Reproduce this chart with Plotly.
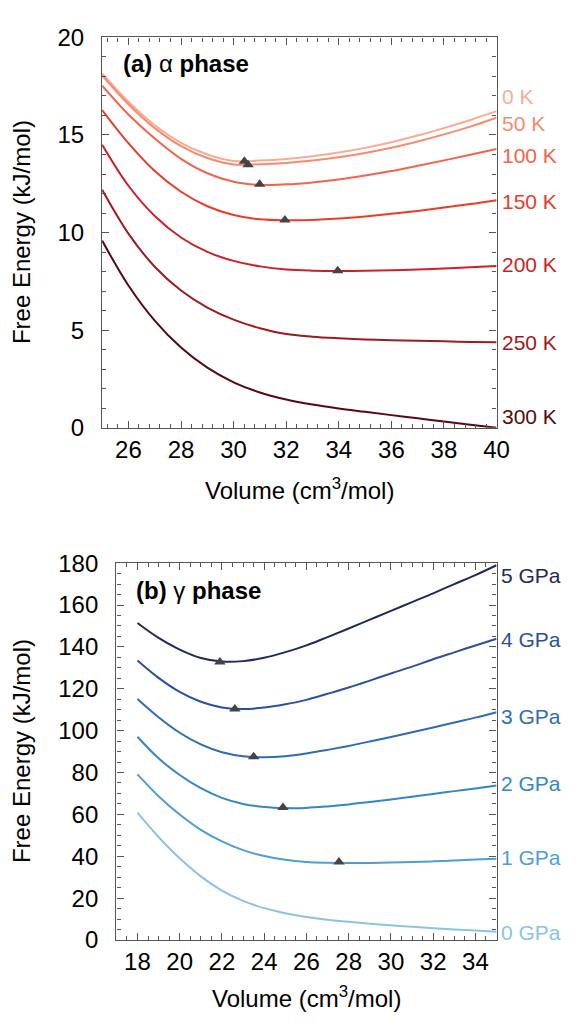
import plotly.graph_objects as go

# ---- (a) alpha phase : free energy vs volume at several temperatures ----
vol_alpha = [25, 26, 27, 28, 29, 30, 31, 32, 33, 34, 35, 36, 37, 38, 39, 40]
f_0K = [18.15, 16.70, 15.50, 14.60, 14.00, 13.67, 13.69, 13.77, 13.91, 14.10, 14.34, 14.63, 14.97, 15.35, 15.77, 16.22]
f_50K = [18.05, 16.57, 15.35, 14.43, 13.82, 13.49, 13.50, 13.57, 13.69, 13.86, 14.08, 14.35, 14.67, 15.03, 15.43, 15.88]
f_100K = [17.53, 16.05, 14.82, 13.78, 13.04, 12.60, 12.44, 12.47, 12.57, 12.72, 12.92, 13.15, 13.42, 13.70, 13.99, 14.28]
f_150K = [16.28, 14.58, 13.15, 12.09, 11.35, 10.90, 10.68, 10.63, 10.65, 10.72, 10.83, 10.96, 11.11, 11.28, 11.46, 11.66]
f_200K = [14.50, 12.40, 10.85, 9.75, 9.01, 8.55, 8.27, 8.11, 8.05, 8.03, 8.04, 8.07, 8.11, 8.16, 8.22, 8.29]
f_250K = [12.20, 9.95, 8.25, 7.03, 6.16, 5.54, 5.10, 4.80, 4.67, 4.59, 4.53, 4.49, 4.46, 4.43, 4.40, 4.38]
f_300K = [9.59, 7.29, 5.49, 4.11, 3.08, 2.33, 1.81, 1.45, 1.19, 0.99, 0.82, 0.65, 0.49, 0.32, 0.16, 0.00]
temp_labels = ['0 K', '50 K', '100 K', '150 K', '200 K', '250 K', '300 K']
temp_label_y = [16.99, 15.59, 13.93, 11.61, 8.34, 4.36, 0.58]

# minima (triangles)
min_vol_alpha = [30.41, 30.55, 30.99, 31.95, 33.96]
min_f_alpha = [13.66, 13.48, 12.47, 10.65, 8.05]

# ---- (b) gamma phase : free energy vs volume at several pressures ----
vol_gamma = [18, 19, 20, 21, 22, 23, 24, 25, 26, 27, 28, 29, 30, 31, 32, 33, 34, 35]
f_0GPa = [60.8, 49.2, 39.0, 30.4, 23.6, 18.7, 15.2, 12.8, 10.95, 9.65, 8.65, 7.8, 7.0, 6.3, 5.65, 5.05, 4.5, 3.9]
f_1GPa = [79.1, 68.7, 59.9, 52.6, 47.1, 42.9, 40.1, 38.3, 37.3, 36.9, 36.75, 36.8, 36.95, 37.2, 37.55, 37.95, 38.4, 38.8]
f_2GPa = [97.1, 86.8, 78.8, 72.5, 67.9, 65.0, 63.5, 63.0, 63.1, 63.8, 64.75, 65.9, 67.1, 68.4, 69.75, 71.1, 72.4, 73.8]
f_3GPa = [115.1, 106.4, 99.0, 93.4, 89.7, 87.8, 87.3, 87.8, 89.1, 90.8, 92.7, 94.8, 97.0, 99.2, 101.5, 103.9, 106.2, 108.8]
f_4GPa = [133.5, 125.2, 118.5, 113.8, 111.1, 110.3, 111.0, 112.6, 114.7, 117.6, 120.6, 123.9, 127.3, 130.6, 134.1, 137.4, 140.7, 143.9]
f_5GPa = [151.4, 144.3, 138.7, 134.7, 133.0, 133.2, 134.8, 137.5, 140.7, 144.7, 148.8, 153.0, 157.2, 161.4, 165.6, 170.0, 174.3, 179.0]
press_labels = ['0 GPa', '1 GPa', '2 GPa', '3 GPa', '4 GPa', '5 GPa']
press_label_y = [3.6, 39.5, 74.9, 106.6, 143.4, 174.1]

min_vol_gamma = [27.54, 24.89, 23.50, 22.61, 21.90]
min_f_gamma = [37.2, 63.3, 87.5, 110.3, 132.8]

red_colors = ['#f9ab94', '#f88a6e', '#f4634b', '#ec3b2e', '#cf1f26', '#a0191e', '#570a0d']
blue_colors = ['#8cc3e4', '#4c9fd6', '#3386c8', '#2e6db6', '#2a51a0', '#23295f']

W, H = 577, 1026
FONT = 'Liberation Sans, Arial, Helvetica, sans-serif'

fig = go.Figure()

alpha_curves = [f_0K, f_50K, f_100K, f_150K, f_200K, f_250K, f_300K]
for name, ys, col in zip(temp_labels, alpha_curves, red_colors):
    fig.add_trace(go.Scatter(x=vol_alpha, y=ys, mode='lines', name=name,
                             line=dict(color=col, width=2, shape='spline'),
                             xaxis='x', yaxis='y'))
fig.add_trace(go.Scatter(x=min_vol_alpha, y=min_f_alpha, mode='markers',
                         marker=dict(symbol='triangle-up', size=10, color='#444444'),
                         xaxis='x', yaxis='y'))

gamma_curves = [f_0GPa, f_1GPa, f_2GPa, f_3GPa, f_4GPa, f_5GPa]
for name, ys, col in zip(press_labels, gamma_curves, blue_colors):
    fig.add_trace(go.Scatter(x=vol_gamma, y=ys, mode='lines', name=name,
                             line=dict(color=col, width=2, shape='spline'),
                             xaxis='x2', yaxis='y2'))
fig.add_trace(go.Scatter(x=min_vol_gamma, y=min_f_gamma, mode='markers',
                         marker=dict(symbol='triangle-up', size=10, color='#444444'),
                         xaxis='x2', yaxis='y2'))


def axis_style(dtick, minor_dtick, rng, domain, anchor, suffix=''):
    return dict(range=rng, domain=domain, anchor=anchor, dtick=dtick, tick0=0,
                showline=True, linecolor='#555555', linewidth=1.4, mirror='allticks',
                ticks='inside', ticklen=7, tickwidth=1.4, tickcolor='#555555',
                showgrid=False, zeroline=False, ticksuffix=suffix,
                tickfont=dict(size=24, color='black'),
                minor=dict(ticks='inside', ticklen=4, tickwidth=1.2, tickcolor='#555555',
                           dtick=minor_dtick, showgrid=False))


top_dom_y = [1 - 425 / H, 1 - 24 / H]
bot_dom_y = [1 - 951 / H, 1 - 564 / H]
top_dom_x = [104.5 / W, 508 / W]
bot_dom_x = [119 / W, 508 / W]

# en-space after the y labels keeps them clear of the axis, as in the original
gap = '\u2002'

fig.update_layout(
    width=W, height=H,
    margin=dict(l=0, r=0, t=0, b=0),
    paper_bgcolor='white', plot_bgcolor='white',
    showlegend=False,
    font=dict(family=FONT, size=22, color='black'),
    xaxis=axis_style(2, 0.4, [25, 40], top_dom_x, 'y'),
    yaxis=axis_style(5, 1, [0, 20], top_dom_y, 'x', gap),
    xaxis2=axis_style(2, 0.5, [17, 35], bot_dom_x, 'y2'),
    yaxis2=axis_style(20, 5, [0, 180], bot_dom_y, 'x2', gap),
)

ann = []
# curve labels at the right edge
for txt, yv, col in zip(temp_labels, temp_label_y, red_colors):
    ann.append(dict(x=512 / W, y=yv, xref='paper', yref='y', text=txt, showarrow=False,
                    xanchor='left', yanchor='middle', font=dict(size=21, color=col)))
for txt, yv, col in zip(press_labels, press_label_y, blue_colors):
    ann.append(dict(x=510 / W, y=yv, xref='paper', yref='y2', text=txt, showarrow=False,
                    xanchor='left', yanchor='middle', font=dict(size=21, color=col)))

# panel titles
ann.append(dict(x=124 / W, y=1 - 51 / H, xref='paper', yref='paper',
                text='<b>(a) </b>α<b> phase</b>', showarrow=False,
                xanchor='left', yanchor='middle', font=dict(size=24, color='black')))
ann.append(dict(x=137 / W, y=1 - 592 / H, xref='paper', yref='paper',
                text='<b>(b) </b>γ<b> phase</b>', showarrow=False,
                xanchor='left', yanchor='middle', font=dict(size=24, color='black')))

# axis titles
for yc in [(24 + 425) / 2, (564 + 951) / 2]:
    ann.append(dict(x=22 / W, y=1 - yc / H, xref='paper', yref='paper',
                    text='Free Energy (kJ/mol)', textangle=-90, showarrow=False,
                    xanchor='center', yanchor='middle', font=dict(size=24)))
for xc, yc in [((104.5 + 508) / 2, 488), ((119 + 508) / 2, 1010)]:
    ann.append(dict(x=xc / W, y=1 - yc / H, xref='paper', yref='paper',
                    text='Volume (cm<sup>3</sup>/mol)', showarrow=False,
                    xanchor='center', yanchor='middle', font=dict(size=24)))

fig.update_layout(annotations=ann)

# page without the default body margin so the figure sits at the window origin
fig.write_html("out.html", config={'displayModeBar': False},
               post_script="document.body.style.margin='0';")
